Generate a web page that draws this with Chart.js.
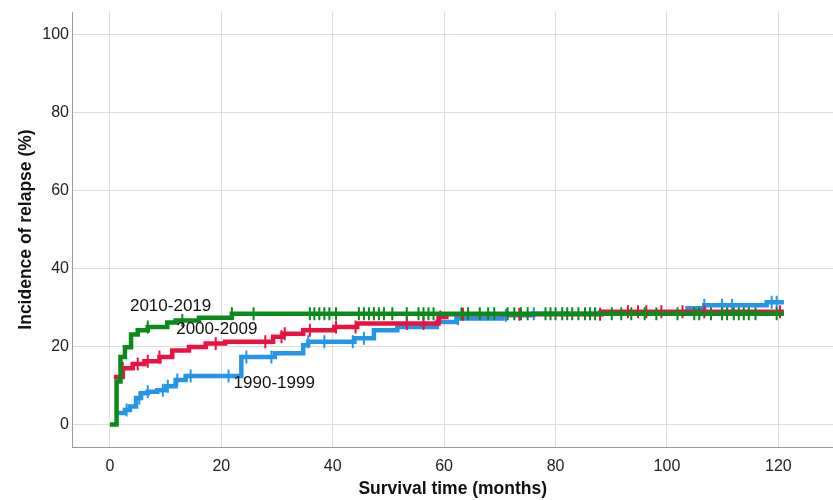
<!DOCTYPE html>
<html>
<head>
<meta charset="utf-8">
<script src="https://cdn.jsdelivr.net/npm/chart.js@4.4.0/dist/chart.umd.min.js"></script>
<style>
  html, body { margin: 0; padding: 0; background: #fff; overflow: hidden; }
  #wrap { width: 833px; height: 500px; overflow: hidden; }
</style>
</head>
<body>
<div id="wrap"><canvas id="km_chart" width="842" height="500"></canvas></div>
<script>
// step points [month, incidence %]
const green_steps = [[0,0],[1.2,11],[1.9,17.3],[2.7,19.8],[3.8,23.1],[5,24.2],[6.8,25],[10.3,26.2],[11.8,26.7],[16,27.4],[21.9,28.4],[121,28.4]];
const red_steps = [[0.7,12.2],[2.3,14.4],[4.1,15.5],[6.2,16.2],[8.9,17.3],[11.2,19],[14.2,19.9],[17.2,20.8],[20.7,21.2],[29.3,22.5],[31,23.3],[34.7,24.2],[40.3,25],[44.4,25.9],[59,27.6],[60.4,28.3],[88.3,28.9],[121,28.9]];
const blue_steps = [[1.2,2.9],[2.7,3.7],[3.6,4.6],[4.7,6.8],[5.6,8],[6.8,8.4],[8.5,8.8],[10.1,9.8],[11.8,11.4],[13.6,12.4],[23.6,17.3],[29.6,18.3],[34.7,20.3],[35.6,21.2],[43.9,22.1],[47.4,24.2],[51.6,25],[58.7,26.3],[62.2,27.2],[70.5,28],[76,28.4],[88,28.8],[103.7,29.8],[106.7,30.6],[117.9,31.4],[121,31.4]];

// censored cases (months)
const green_censor = [6.8,13,21.9,25.8,35.9,36.7,37.6,38.5,39.4,40.6,44.7,45.6,46.5,47.4,48.3,49.2,50.7,53.3,55.4,56.3,57.2,58.1,63.1,64.3,66.4,67.9,69,71.4,72.6,73.8,75,78.2,79.1,80,81.2,82.1,83,84.1,85.3,86.2,87.1,90.1,91.8,93.6,96,98.1,101.9,104.9,105.8,107.9,109.9,110.8,112,112.9,113.8,114.7,115.9,119.7];
const red_censor = [2.3,5,6.8,8.9,19,27.9,30.8,31.4,35.9,40.6,44.1,53.3,56.3,59.3,63.4,73.5,88,93,94.8,96.3,99,102.8,106.7,120.3];
const blue_censor = [3,5.3,6.8,9.5,10.4,12.1,14.5,21.3,24.5,29,35.6,38.5,43.6,45.6,62.5,71.1,76.1,106.7,109.9,111.7,118.8,119.7];

const group_names = ["2010-2019", "2000-2009", "1990-1999"];
const group_colors = ["#0b8a1c", "#ea1240", "#2596e6"];
const label_x = [10.9, 19.2, 29.5];
const label_y = [30.2, 24.4, 10.6];

const x_ticks = [0, 20, 40, 60, 80, 100, 120];
const y_ticks = [0, 20, 40, 60, 80, 100];

const font_family = '"Liberation Sans", Arial, sans-serif';

function to_points(steps) {
  return steps.map(p => ({x: p[0], y: p[1]}));
}

// height of the step curve at a given month
function step_value(steps, month) {
  let v = steps[0][1];
  for (const p of steps) {
    if (p[0] <= month) v = p[1];
  }
  return v;
}

function censor_points(steps, months) {
  return months.map(m => ({x: m, y: step_value(steps, m)}));
}

const all_steps = [green_steps, red_steps, blue_steps];
const all_censor = [green_censor, red_censor, blue_censor];

let datasets = [];
for (let i = 0; i < 3; i++) {
  datasets.push({
    label: group_names[i] + ' censored',
    data: censor_points(all_steps[i], all_censor[i]),
    showLine: false,
    pointStyle: 'line',
    rotation: 90,
    pointRadius: 6.5,
    pointBorderWidth: 2,
    borderColor: group_colors[i],
    backgroundColor: group_colors[i]
  });
  datasets.push({
    label: group_names[i],
    data: to_points(all_steps[i]),
    showLine: true,
    stepped: true,
    borderWidth: 4.5,
    pointRadius: 0,
    borderColor: group_colors[i],
    backgroundColor: group_colors[i]
  });
}

// group names written next to the curves
const curve_labels = {
  id: 'curve_labels',
  afterDatasetsDraw(chart) {
    const ctx = chart.ctx;
    ctx.save();
    ctx.font = '17px ' + font_family;
    ctx.fillStyle = '#111';
    ctx.textAlign = 'center';
    ctx.textBaseline = 'middle';
    for (let i = 0; i < group_names.length; i++) {
      const px = chart.scales.x.getPixelForValue(label_x[i]);
      const py = chart.scales.y.getPixelForValue(label_y[i]);
      ctx.fillText(group_names[i], px, py);
    }
    ctx.restore();
  }
};

const ctx = document.getElementById('km_chart').getContext('2d');
const chart = new Chart(ctx, {
  type: 'scatter',
  data: { datasets: datasets },
  plugins: [curve_labels],
  options: {
    responsive: false,
    animation: false,
    layout: { padding: { top: 12, right: 0, left: 16, bottom: 0 } },
    plugins: {
      legend: { display: false },
      tooltip: { enabled: false }
    },
    scales: {
      x: {
        type: 'linear',
        min: -6.8,
        max: 129.9,
        afterBuildTicks: scale => { scale.ticks = x_ticks.map(v => ({value: v})); },
        afterFit: scale => {
          scale.height = 53;
          scale.paddingLeft = 0;
          scale.paddingRight = 0;
        },
        grid: { color: '#dcdcdc', lineWidth: 1, drawTicks: false },
        border: { color: '#9a9a9a', width: 1 },
        ticks: {
          padding: 10,
          color: '#222',
          font: { family: font_family, size: 16 }
        },
        title: {
          display: true,
          text: 'Survival time (months)',
          color: '#111',
          padding: { top: 3, bottom: 0 },
          font: { family: font_family, size: 17.5, weight: 'bold' }
        }
      },
      y: {
        type: 'linear',
        min: -5.8,
        max: 105.9,
        afterBuildTicks: scale => { scale.ticks = y_ticks.map(v => ({value: v})); },
        afterFit: scale => {
          scale.width = 56;
          scale.paddingTop = 0;
          scale.paddingBottom = 0;
        },
        grid: { color: '#dcdcdc', lineWidth: 1, drawTicks: false },
        border: { color: '#9a9a9a', width: 1 },
        ticks: {
          padding: 3,
          color: '#222',
          font: { family: font_family, size: 16 }
        },
        title: {
          display: true,
          text: 'Incidence of relapse (%)',
          color: '#111',
          padding: { top: 0, bottom: 4 },
          font: { family: font_family, size: 17.5, weight: 'bold' }
        }
      }
    }
  }
});
</script>
</body>
</html>
